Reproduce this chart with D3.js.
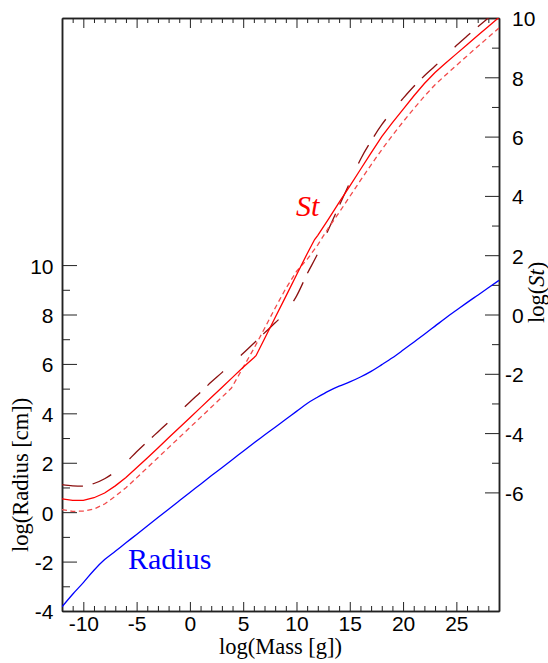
<!DOCTYPE html>
<html>
<head>
<meta charset="utf-8">
<script src="https://cdn.jsdelivr.net/npm/d3@7"></script>
<style>
  html, body { margin: 0; padding: 0; background: #fff; }
  svg { display: block; }
  .tick text { font-family: "Liberation Sans", Arial, sans-serif; font-size: 21px; fill: #000; }
  .tick line { stroke: #222; stroke-width: 1; }
  .domain { stroke: #222; stroke-width: 1.5; }
  .title { font-family: "Liberation Serif", "Times New Roman", serif; font-size: 22.5px; fill: #000; }
</style>
</head>
<body>
<div id="chart"></div>
<script>
/* values */
var radiusMass = d3.range(-12, 30);
var radius = [-3.83, -3.32, -2.85, -2.35, -1.92, -1.58, -1.24, -0.90, -0.56, -0.22,
              0.12, 0.46, 0.80, 1.13, 1.47, 1.80, 2.13, 2.47, 2.80, 3.12,
              3.44, 3.76, 4.08, 4.40, 4.66, 4.90, 5.10, 5.27, 5.47, 5.70,
              5.97, 6.25, 6.56, 6.88, 7.20, 7.53, 7.86, 8.17, 8.48, 8.78,
              9.08, 9.38];

var stMass = [-12, -11, -10, -9, -8, -7, -6, -5, -4, -3, -2, -1, 0, 1, 2, 3, 4, 5, 6, 6.2,
              7, 8, 9, 10, 11, 11.7, 12, 13, 14, 15, 16, 17, 18, 19, 20, 21, 22, 23, 24, 25,
              26, 27, 28, 29];
var st = [-6.22, -6.27, -6.27, -6.18, -6.02, -5.78, -5.50, -5.17, -4.84, -4.50,
          -4.16, -3.82, -3.48, -3.14, -2.80, -2.46, -2.12, -1.78, -1.46, -1.39,
          -0.82, -0.10, 0.61, 1.33, 2.05, 2.53, 2.67, 3.22, 3.78, 4.33,
          4.89, 5.45, 6.00, 6.47, 6.92, 7.37, 7.79, 8.16, 8.48, 8.79,
          9.10, 9.41, 9.71, 10.02];

var stShortMass = [-12, -11, -10, -9, -8, -7, -6, -5, -4, -3, -2, -1, 0, 1, 2, 3, 3.9,
                   5, 6, 7, 8, 9, 10, 11, 12, 13, 14, 15, 16, 17, 18, 19, 20, 21, 22, 23,
                   24, 25, 26, 27, 28, 29];
var stShort = [-6.58, -6.64, -6.63, -6.56, -6.39, -6.13, -5.84, -5.51, -5.17, -4.83,
               -4.49, -4.15, -3.81, -3.47, -3.13, -2.79, -2.48,
               -1.78, -1.15, -0.47, 0.22, 0.88, 1.45, 1.86, 2.35, 2.92, 3.44,
               3.98, 4.52, 5.05, 5.56, 6.04, 6.50, 6.94, 7.36, 7.75, 8.08,
               8.40, 8.72, 9.04, 9.35, 9.66];

var stLongMass = d3.range(-12, 30);
var stLong = [-5.74, -5.78, -5.79, -5.70, -5.54, -5.30, -4.99, -4.63, -4.29, -3.96,
              -3.63, -3.29, -2.95, -2.62, -2.28, -1.96, -1.63, -1.31, -0.97, -0.62,
              -0.28, 0.08, 0.62, 1.37, 2.06, 2.87, 3.66, 4.45, 5.23, 5.85,
              6.40, 6.87, 7.29, 7.69, 8.05, 8.38, 8.73, 9.07, 9.39, 9.70,
              10.00, 10.30];

var xMajor = [-10, -5, 0, 5, 10, 15, 20, 25];
var xMinor = d3.range(-11, 29).filter(function (d) { return d % 5 !== 0; });
var leftMajor = [-4, -2, 0, 2, 4, 6, 8, 10];
var leftMinor = [-3, -1, 1, 3, 5, 7, 9];
var rightMajor = [-6, -4, -2, 0, 2, 4, 6, 8, 10];
var rightMinor = [-5, -3, -1, 1, 3, 5, 7, 9];

/* d3 setup */
var W = 548, H = 663;
var plot = { left: 62, right: 499, top: 18, bottom: 611 };

var svg = d3.select("#chart")
            .append("svg")
            .attr("width", W)
            .attr("height", H);

var x = d3.scaleLinear().domain([-12, 29]).range([plot.left, plot.right]);
var yL = d3.scaleLinear().domain([-4, 20]).range([plot.bottom, plot.top]);
var yR = d3.scaleLinear().domain([-10, 10]).range([plot.bottom, plot.top]);

svg.append("clipPath").attr("id", "clip")
   .append("rect")
   .attr("x", plot.left).attr("y", plot.top)
   .attr("width", plot.right - plot.left)
   .attr("height", plot.bottom - plot.top);

var fmt = function (d) { return String(d); };

/* bottom axis */
svg.append("g")
   .attr("transform", "translate(0," + plot.bottom + ")")
   .call(d3.axisBottom(x).tickValues(xMinor).tickSize(-5).tickSizeOuter(0).tickFormat(""));
svg.append("g")
   .attr("transform", "translate(0," + plot.bottom + ")")
   .call(d3.axisBottom(x).tickValues(xMajor).tickSize(-9).tickSizeOuter(0).tickPadding(5).tickFormat(fmt));

/* top axis */
svg.append("g")
   .attr("transform", "translate(0," + plot.top + ")")
   .call(d3.axisTop(x).tickValues(xMinor).tickSize(-5).tickSizeOuter(0).tickFormat(""));
svg.append("g")
   .attr("transform", "translate(0," + plot.top + ")")
   .call(d3.axisTop(x).tickValues(xMajor).tickSize(-10).tickSizeOuter(0).tickFormat(""));

/* left axis: log(Radius) */
svg.append("g")
   .attr("transform", "translate(" + plot.left + ",0)")
   .call(d3.axisLeft(yL).tickValues(leftMinor).tickSize(-8).tickSizeOuter(0).tickFormat(""));
svg.append("g")
   .attr("transform", "translate(" + plot.left + ",0)")
   .call(d3.axisLeft(yL).tickValues(leftMajor).tickSize(-15).tickSizeOuter(0).tickPadding(8.5).tickFormat(fmt))
   .selectAll(".tick text").attr("dy", "0.38em");

/* right axis: log(St) */
svg.append("g")
   .attr("transform", "translate(" + plot.right + ",0)")
   .call(d3.axisRight(yR).tickValues(rightMinor).tickSize(-7).tickSizeOuter(0).tickFormat(""));
svg.append("g")
   .attr("transform", "translate(" + plot.right + ",0)")
   .call(d3.axisRight(yR).tickValues(rightMajor).tickSize(-14).tickSizeOuter(0).tickPadding(13).tickFormat(fmt))
   .selectAll(".tick text")
   .attr("dy", "0.38em")
   .attr("dx", function (d) { return d < 0 ? "-0.333em" : 0; });

/* curves */
var curves = svg.append("g").attr("clip-path", "url(#clip)");

function drawLine(xs, ys, scaleY, color, dash, curve) {
  var pts = xs.map(function (m, i) { return [m, ys[i]]; });
  var line = d3.line()
               .x(function (d) { return x(d[0]); })
               .y(function (d) { return scaleY(d[1]); })
               .curve(curve);
  curves.append("path")
        .datum(pts)
        .attr("d", line)
        .attr("fill", "none")
        .attr("stroke", color)
        .attr("stroke-width", 1.3)
        .attr("stroke-dasharray", dash);
}

drawLine(stLongMass, stLong, yR, "#8b1010", "21,10,21,24", d3.curveMonotoneX);
drawLine(stShortMass, stShort, yR, "#f24a4a", "5,3.5", d3.curveLinear);
drawLine(stMass, st, yR, "#ff0000", null, d3.curveLinear);
drawLine(radiusMass, radius, yL, "#0000ff", null, d3.curveMonotoneX);

/* labels */
svg.append("text")
   .attr("x", x(9.95)).attr("y", yR(3.32))
   .style("font-family", "Liberation Serif, serif")
   .style("font-style", "italic")
   .style("font-size", "30px")
   .style("fill", "#ff0000")
   .text("St");

svg.append("text")
   .attr("x", x(-5.81)).attr("y", yL(-2.3))
   .style("font-family", "Liberation Serif, serif")
   .style("font-size", "30px")
   .style("fill", "#0000ff")
   .text("Radius");

/* axis titles */
svg.append("text")
   .attr("class", "title")
   .attr("x", (plot.left + plot.right) / 2).attr("y", 654)
   .attr("text-anchor", "middle")
   .text("log(Mass [g])");

svg.append("text")
   .attr("class", "title")
   .attr("transform", "translate(28,552) rotate(-90)")
   .attr("text-anchor", "start")
   .text("log(Radius [cm])");

var rt = svg.append("text")
   .attr("class", "title")
   .attr("transform", "translate(544,323) rotate(-90)")
   .attr("text-anchor", "start");
rt.append("tspan").text("log(");
rt.append("tspan").style("font-style", "italic").text("St");
rt.append("tspan").text(")");
</script>
</body>
</html>
